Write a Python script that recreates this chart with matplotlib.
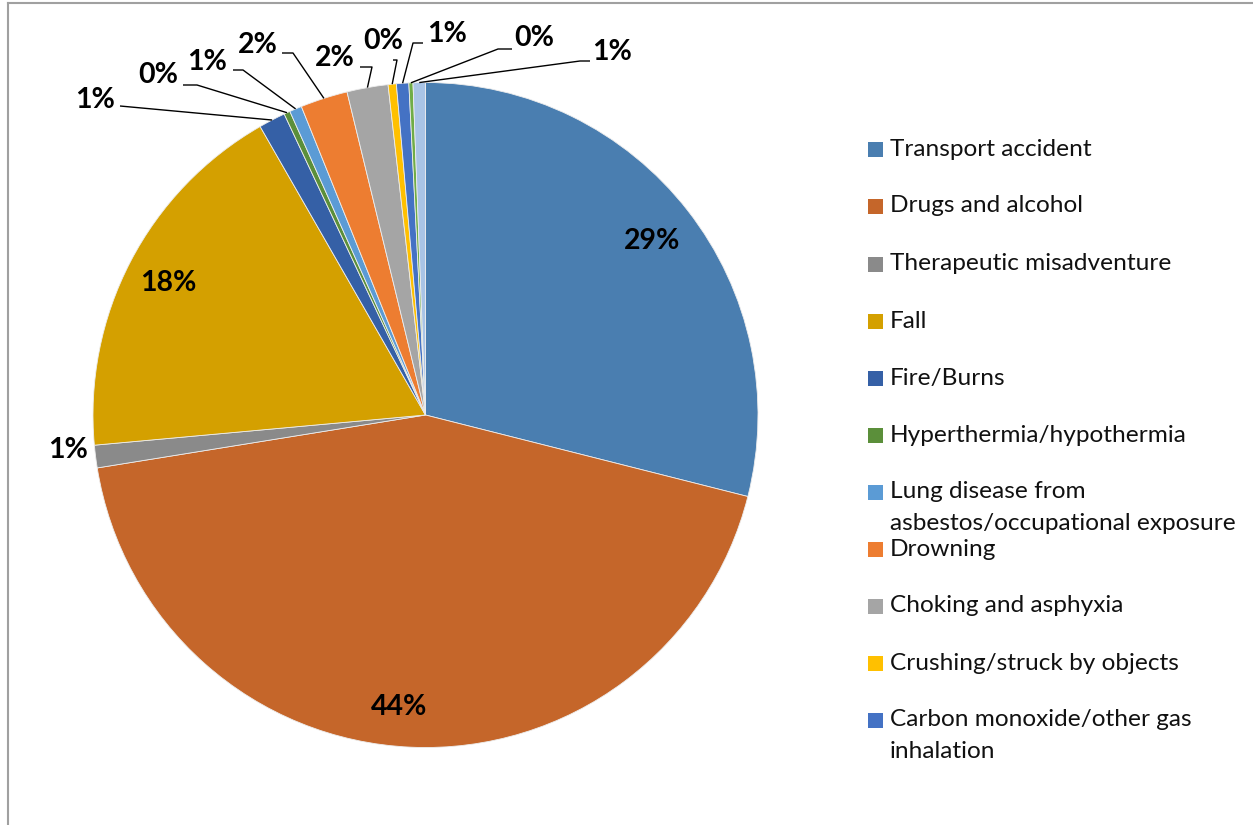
import matplotlib
matplotlib.use("Agg")
import matplotlib.pyplot as plt
import numpy as np

# ---- data ----
categories = [
    "Transport accident", "Drugs and alcohol", "Therapeutic misadventure", "Fall",
    "Fire/Burns", "Hyperthermia/hypothermia",
    "Lung disease from\nasbestos/occupational exposure", "Drowning",
    "Choking and asphyxia", "Crushing/struck by objects",
    "Carbon monoxide/other gas\ninhalation", "Other (a)", "Other (b)",
]
values = [29.0, 43.6, 1.1, 18.2, 1.3, 0.3, 0.6, 2.3, 2.0, 0.4, 0.6, 0.2, 0.6]
colors = ["#4A7EB0", "#C5662A", "#8A8A8A", "#D4A000", "#3560A6", "#5B8F3A",
          "#5B9BD5", "#ED7D31", "#A5A5A5", "#FFC000", "#4472C4", "#70AD47", "#A9C4E6"]
n_legend = 11  # only first 11 categories shown in legend

W, H = 1253, 825
fig = plt.figure(figsize=(W / 100, H / 100), dpi=100)
ax = fig.add_axes([0, 0, 1, 1])

def Y(y):
    return H - y

cx, cy, R = 425.5, Y(415), 332.5
wedges, _ = ax.pie(values, colors=colors, startangle=90, counterclock=False,
                   center=(cx, cy), radius=R, frame=True,
                   wedgeprops=dict(edgecolor="#EDEDED", linewidth=0.6))
ax.set_xlim(0, W)
ax.set_ylim(0, H)
ax.set_aspect("auto")
ax.axis("off")

total = sum(values)
pct = [f"{round(v / total * 100):d}%" for v in values]

lab_font = dict(family=["Lato", "DejaVu Sans"], fontsize=20.5, fontweight="bold",
                fontstyle="normal", color="black")

# inside labels
inside = {0: (652, 241), 1: (399, 707), 3: (168, 283)}
for i, (x, y) in inside.items():
    ax.text(x, Y(y), pct[i], ha="center", va="center", **lab_font)

# outside label without leader
ax.text(68, Y(450), pct[2], ha="center", va="center", **lab_font)

def edge_point(i):
    w = wedges[i]
    th = np.deg2rad((w.theta1 + w.theta2) / 2)
    return cx + R * np.cos(th), cy + R * np.sin(th)

# outside labels with leader lines: text center, line start/elbow (image px)
outs = {
    4: ((95, 100), [(120, 106)]),
    5: ((158, 75), [(183, 85), (197, 85)]),
    6: ((207, 62), [(233, 70), (243, 70)]),
    7: ((258, 45), [(282, 53), (293, 53)]),
    8: ((335, 58), [(360, 67), (372, 67)]),
    9: ((383, 41), [(393, 60), (397, 60)]),
    10: ((447, 34), [(423, 43), (413, 43)]),
    11: ((534, 38), [(512, 49), (498, 49)]),
    12: ((612, 52), [(590, 61), (580, 61)]),
}
for i, ((tx, ty), pts) in outs.items():
    ax.text(tx, Y(ty), pct[i], ha="center", va="center", **lab_font)
    ex, ey = edge_point(i)
    xs = [p[0] for p in pts] + [ex]
    ys = [Y(p[1]) for p in pts] + [ey]
    ax.plot(xs, ys, color="black", linewidth=1.0, solid_capstyle="butt")

# legend (manual)
leg_font = dict(family=["Lato", "DejaVu Sans"], fontsize=17.6, color="#111111")
leg_y = [149, 206, 264, 321, 378, 435, 492, 549, 606, 663, 720]
for i in range(n_legend):
    y = leg_y[i]
    ax.add_patch(plt.Rectangle((868, Y(y) - 7.5), 15, 15, facecolor=colors[i], edgecolor="none"))
    for k, line in enumerate(categories[i].split("\n")):
        ax.text(890, Y(y + 31 * k), line, ha="left", va="center", **leg_font)

# chart border (top and left visible)
ax.plot([7.5, W], [Y(2.5), Y(2.5)], color="#A0A0A0", linewidth=1.5)
ax.plot([7.5, 7.5], [Y(2.5), 0], color="#A0A0A0", linewidth=1.5)

fig.savefig("out.png", dpi=100, facecolor="white")
